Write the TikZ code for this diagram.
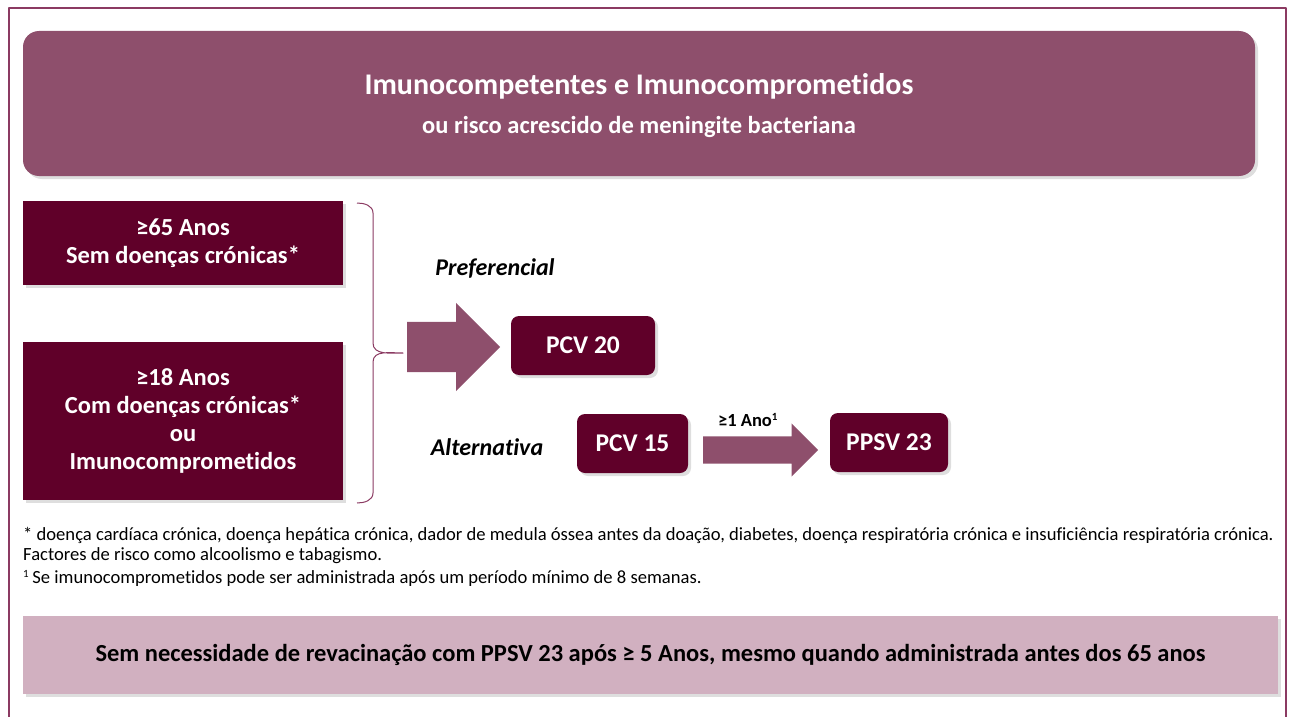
\documentclass[tikz,border=0pt]{standalone}
\usepackage{fontspec}
\setmainfont{Carlito}[Ligatures=NoCommon]
\usetikzlibrary{shapes.arrows,shadows,positioning}
\definecolor{plum}{HTML}{8E4F6C}
\definecolor{wine}{HTML}{600029}
\definecolor{rose}{HTML}{D1B0C0}
\definecolor{framec}{HTML}{8B3A62}
\tikzset{
	shade/.style={drop shadow={shadow xshift=3pt,shadow yshift=-3pt,fill=black!13,opacity=1}},
	agebox/.style={fill=wine,text=white,font=\bfseries\fontsize{24.5}{28}\selectfont,align=center,minimum width=320pt,inner sep=0pt,shade},
	vacbox/.style={fill=wine,text=white,font=\bfseries\fontsize{25.5}{28}\selectfont,rounded corners=8pt,inner sep=0pt,minimum height=59pt,shade},
	blockarr/.style={single arrow,fill=plum,inner xsep=0pt,single arrow tip angle=90,anchor=tail},
	tag/.style={font=\bfseries\itshape\fontsize{24}{28}\selectfont}
}
\begin{document}
\begin{tikzpicture}[x=1pt,y=-1pt,line join=round]
	\useasboundingbox (0,0) rectangle (1294,717);
	\draw[framec,line width=1.4pt] (9,8) rectangle (1286,760);
	% header
	\node[fill=plum,rounded corners=16pt,minimum width=1232pt,minimum height=145pt,inner sep=0pt,shade] (hdr) at (639,103.5) {};
	\node[text=white,font=\bfseries\fontsize{30}{34}\selectfont] (hdrT) at (639,86) {Imunocompetentes e Imunocomprometidos};
	\node[text=white,font=\bfseries\fontsize{24.5}{28}\selectfont] (hdrS) at (639,127) {ou risco acrescido de meningite bacteriana};
	% groups
	\node[agebox,minimum height=84pt] (grpA) at (183,243) {≥65 Anos\\Sem doenças crónicas*};
	\node[agebox,minimum height=158pt] (grpB) at (183,421) {≥18 Anos\\Com doenças crónicas*\\ou\\Imunocomprometidos};
	\coordinate (bt) at (357,203);
	\coordinate (bb) at (357,503);
	\coordinate (btip) at (403,353);
	\draw[framec,line width=1pt] (bt) to[out=0,in=90] (373,213) -- (373,343) to[out=-90,in=180] (btip)
		to[out=180,in=90] (373,362) -- (373,493) to[out=-90,in=0] (bb);
	% schemes
	\node[blockarr,minimum height=93pt,inner ysep=25pt,single arrow head extend=19pt] (bigarr) at (407,347) {};
	\node[tag] (pref) at (495,268) {Preferencial};
	\node[vacbox,minimum width=144pt] (pcvA) at (583,345.5) {PCV 20};
	\node[tag] (alt) at (487,447) {Alternativa};
	\node[vacbox,minimum width=111pt] (pcvB) at (632.5,443.5) {PCV 15};
	\node[blockarr,minimum height=115pt,inner ysep=13.5pt,single arrow head extend=13pt] (smallarr) at (703,450) {};
	\node[font=\bfseries\fontsize{18.5}{20}\selectfont] (gap) at (748,420) {≥1 Ano\textsuperscript{\fontsize{11}{11}\selectfont 1}};
	\node[vacbox,minimum width=118pt] (ppsv) at (889,442.5) {PPSV 23};
	% notes
	\node[anchor=north west,align=left,inner sep=0pt,font=\fontsize{18.6}{20}\selectfont] (notes) at (23,527)
		{* doença cardíaca crónica, doença hepática crónica, dador de medula óssea antes da doação, diabetes, doença respiratória crónica e insuficiência respiratória crónica.\\
		Factores de risco como alcoolismo e tabagismo.\\[3pt]
		\textsuperscript{\fontsize{11}{11}\selectfont 1}\,Se imunocomprometidos pode ser administrada após um período mínimo de 8 semanas.};
	\node[fill=rose,minimum width=1255pt,minimum height=78pt,inner sep=0pt,font=\bfseries\fontsize{24.5}{28}\selectfont,shade] (footer) at (650.5,655)
		{Sem necessidade de revacinação com PPSV 23 após ≥ 5 Anos, mesmo quando administrada antes dos 65 anos};
\end{tikzpicture}
\end{document}
